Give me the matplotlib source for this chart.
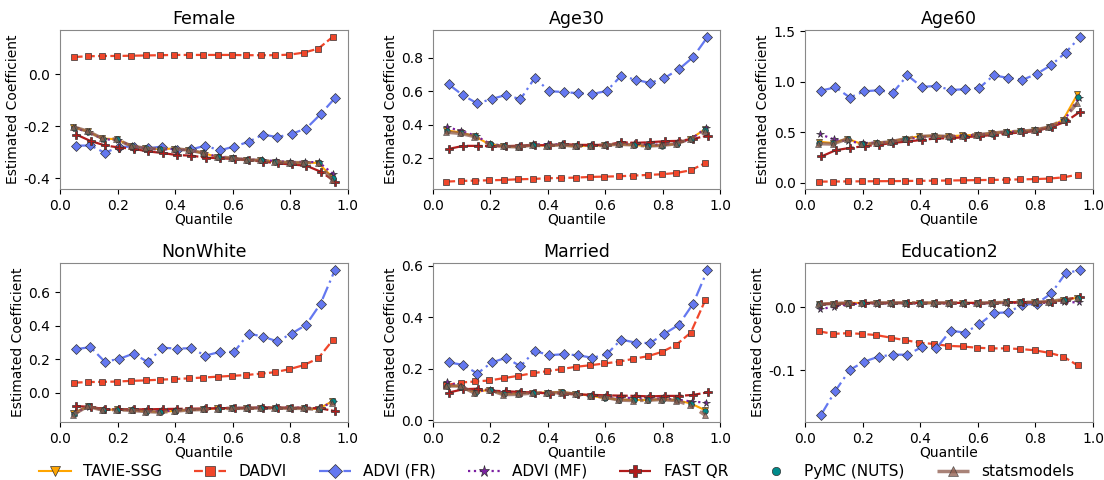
import numpy as np
import matplotlib
matplotlib.use('Agg')
import matplotlib.pyplot as plt

plt.rcParams['axes.unicode_minus'] = False

quantiles = np.round(np.arange(0.05, 0.96, 0.05), 2)

panels = ['Female', 'Age30', 'Age60', 'NonWhite', 'Married', 'Education2']

# --- TAVIE-SSG ---
tavie = {
    'Female': [-0.204, -0.220, -0.247, -0.250, -0.275, -0.285, -0.288, -0.286, -0.292, -0.303,
               -0.318, -0.323, -0.329, -0.331, -0.336, -0.340, -0.340, -0.341, -0.395],
    'Age30': [0.366, 0.354, 0.331, 0.283, 0.271, 0.267, 0.277, 0.275, 0.279, 0.271,
              0.273, 0.277, 0.283, 0.279, 0.272, 0.276, 0.285, 0.315, 0.372],
    'Age60': [0.408, 0.395, 0.438, 0.385, 0.395, 0.408, 0.438, 0.461, 0.467, 0.461,
              0.470, 0.477, 0.490, 0.507, 0.510, 0.523, 0.553, 0.622, 0.877],
    'NonWhite': [-0.124, -0.082, -0.103, -0.101, -0.105, -0.112, -0.115, -0.110, -0.103, -0.100,
                 -0.095, -0.093, -0.093, -0.091, -0.091, -0.093, -0.093, -0.099, -0.052],
    'Married': [0.135, 0.131, 0.108, 0.118, 0.101, 0.104, 0.107, 0.107, 0.109, 0.103,
                0.095, 0.086, 0.080, 0.078, 0.078, 0.081, 0.078, 0.065, 0.039],
    'Education2': [0.005, 0.006, 0.007, 0.007, 0.007, 0.007, 0.007, 0.007, 0.007, 0.007,
                   0.007, 0.007, 0.007, 0.008, 0.008, 0.008, 0.009, 0.012, 0.015],
}

# --- DADVI ---
dadvi = {
    'Female': [0.066, 0.069, 0.070, 0.070, 0.071, 0.072, 0.073, 0.074, 0.074, 0.074,
               0.074, 0.074, 0.073, 0.073, 0.073, 0.075, 0.083, 0.098, 0.143],
    'Age30': [0.059, 0.063, 0.065, 0.067, 0.069, 0.073, 0.075, 0.079, 0.081, 0.083,
              0.087, 0.089, 0.091, 0.095, 0.099, 0.103, 0.111, 0.127, 0.170],
    'Age60': [0.013, 0.014, 0.015, 0.016, 0.017, 0.018, 0.019, 0.021, 0.022, 0.024,
              0.026, 0.028, 0.030, 0.032, 0.035, 0.038, 0.043, 0.055, 0.082],
    'NonWhite': [0.059, 0.063, 0.064, 0.066, 0.070, 0.073, 0.077, 0.081, 0.085, 0.090,
                 0.095, 0.100, 0.105, 0.113, 0.122, 0.140, 0.164, 0.205, 0.312],
    'Married': [0.136, 0.146, 0.150, 0.154, 0.163, 0.172, 0.182, 0.190, 0.198, 0.207,
                0.213, 0.220, 0.227, 0.238, 0.248, 0.265, 0.293, 0.340, 0.465],
    'Education2': [-0.038, -0.042, -0.041, -0.042, -0.044, -0.048, -0.052, -0.056, -0.058, -0.061,
                   -0.062, -0.064, -0.065, -0.065, -0.066, -0.068, -0.072, -0.078, -0.092],
}

# --- ADVI (FR) ---
advi_fr = {
    'Female': [-0.275, -0.274, -0.302, -0.280, -0.278, -0.285, -0.278, -0.293, -0.289, -0.275,
               -0.293, -0.278, -0.260, -0.232, -0.242, -0.229, -0.209, -0.154, -0.092],
    'Age30': [0.642, 0.576, 0.527, 0.554, 0.578, 0.552, 0.681, 0.600, 0.596, 0.588,
              0.584, 0.602, 0.693, 0.669, 0.650, 0.679, 0.731, 0.804, 0.925],
    'Age60': [0.914, 0.946, 0.845, 0.907, 0.917, 0.894, 1.065, 0.950, 0.960, 0.920,
              0.927, 0.940, 1.065, 1.039, 1.020, 1.080, 1.166, 1.290, 1.444],
    'NonWhite': [0.259, 0.272, 0.185, 0.201, 0.233, 0.182, 0.268, 0.263, 0.265, 0.221,
                 0.243, 0.243, 0.353, 0.334, 0.306, 0.353, 0.405, 0.531, 0.732],
    'Married': [0.224, 0.215, 0.181, 0.224, 0.242, 0.209, 0.269, 0.252, 0.256, 0.252,
                0.242, 0.256, 0.313, 0.301, 0.299, 0.335, 0.370, 0.452, 0.583],
    'Education2': [-0.170, -0.132, -0.099, -0.086, -0.078, -0.075, -0.075, -0.063, -0.065, -0.037,
                   -0.040, -0.027, -0.009, -0.008, 0.004, 0.006, 0.022, 0.054, 0.059],
}

# --- ADVI (MF) ---
advi_mf = {
    'Female': [-0.206, -0.224, -0.250, -0.253, -0.277, -0.286, -0.290, -0.287, -0.293, -0.304,
               -0.318, -0.322, -0.328, -0.330, -0.334, -0.338, -0.337, -0.339, -0.385],
    'Age30': [0.385, 0.362, 0.333, 0.285, 0.272, 0.270, 0.282, 0.282, 0.283, 0.276,
              0.276, 0.279, 0.287, 0.284, 0.280, 0.281, 0.288, 0.316, 0.380],
    'Age60': [0.484, 0.430, 0.410, 0.395, 0.398, 0.410, 0.430, 0.455, 0.463, 0.458,
              0.468, 0.476, 0.492, 0.506, 0.511, 0.524, 0.552, 0.618, 0.840],
    'NonWhite': [-0.120, -0.085, -0.102, -0.100, -0.104, -0.110, -0.112, -0.108, -0.101, -0.098,
                 -0.094, -0.091, -0.091, -0.089, -0.089, -0.090, -0.090, -0.093, -0.055],
    'Married': [0.148, 0.130, 0.112, 0.117, 0.108, 0.106, 0.107, 0.106, 0.106, 0.101,
                0.094, 0.090, 0.088, 0.085, 0.084, 0.084, 0.080, 0.072, 0.068],
    'Education2': [-0.003, 0.001, 0.005, 0.006, 0.006, 0.006, 0.006, 0.006, 0.006, 0.006,
                   0.006, 0.006, 0.006, 0.007, 0.007, 0.007, 0.007, 0.008, 0.008],
}

# --- FAST QR ---
fast_qr = {
    'Female': [-0.232, -0.257, -0.274, -0.282, -0.287, -0.297, -0.303, -0.311, -0.313, -0.321,
               -0.323, -0.326, -0.331, -0.336, -0.343, -0.347, -0.352, -0.375, -0.413],
    'Age30': [0.255, 0.273, 0.273, 0.271, 0.271, 0.275, 0.277, 0.277, 0.283, 0.279,
              0.279, 0.279, 0.295, 0.291, 0.295, 0.301, 0.303, 0.315, 0.335],
    'Age60': [0.262, 0.324, 0.347, 0.364, 0.377, 0.397, 0.410, 0.426, 0.440, 0.443,
              0.453, 0.463, 0.476, 0.490, 0.500, 0.516, 0.553, 0.608, 0.706],
    'NonWhite': [-0.081, -0.085, -0.100, -0.099, -0.100, -0.100, -0.098, -0.097, -0.096, -0.095,
                 -0.093, -0.092, -0.091, -0.090, -0.090, -0.091, -0.091, -0.095, -0.111],
    'Married': [0.107, 0.120, 0.122, 0.114, 0.112, 0.109, 0.107, 0.103, 0.103, 0.100,
                0.098, 0.096, 0.095, 0.094, 0.092, 0.094, 0.094, 0.098, 0.108],
    'Education2': [0.005, 0.006, 0.006, 0.007, 0.007, 0.007, 0.007, 0.007, 0.007, 0.007,
                   0.007, 0.007, 0.007, 0.008, 0.008, 0.008, 0.009, 0.012, 0.017],
}

# --- PyMC (NUTS) ---
pymc = {
    'Female': [-0.205, -0.221, -0.248, -0.251, -0.276, -0.285, -0.289, -0.287, -0.292, -0.304,
               -0.319, -0.323, -0.329, -0.331, -0.337, -0.341, -0.341, -0.342, -0.400],
    'Age30': [0.362, 0.352, 0.330, 0.282, 0.270, 0.267, 0.276, 0.274, 0.278, 0.270,
              0.272, 0.276, 0.282, 0.279, 0.272, 0.275, 0.284, 0.314, 0.368],
    'Age60': [0.400, 0.392, 0.432, 0.384, 0.394, 0.406, 0.435, 0.459, 0.465, 0.459,
              0.468, 0.476, 0.489, 0.505, 0.509, 0.521, 0.551, 0.618, 0.850],
    'NonWhite': [-0.130, -0.083, -0.104, -0.102, -0.106, -0.113, -0.117, -0.112, -0.104, -0.101,
                 -0.096, -0.094, -0.094, -0.092, -0.092, -0.094, -0.094, -0.100, -0.050],
    'Married': [0.133, 0.128, 0.106, 0.116, 0.100, 0.103, 0.106, 0.106, 0.108, 0.101,
                0.094, 0.084, 0.079, 0.077, 0.077, 0.080, 0.077, 0.064, 0.037],
    'Education2': [0.005, 0.006, 0.007, 0.007, 0.007, 0.007, 0.007, 0.007, 0.007, 0.007,
                   0.007, 0.007, 0.007, 0.008, 0.008, 0.008, 0.009, 0.012, 0.015],
}

# --- statsmodels ---
statsm = {
    'Female': [-0.202, -0.219, -0.246, -0.250, -0.275, -0.285, -0.287, -0.286, -0.292, -0.302,
               -0.318, -0.322, -0.329, -0.331, -0.336, -0.340, -0.340, -0.341, -0.405],
    'Age30': [0.355, 0.348, 0.329, 0.283, 0.270, 0.267, 0.277, 0.274, 0.279, 0.271,
              0.273, 0.277, 0.283, 0.279, 0.272, 0.276, 0.285, 0.315, 0.360],
    'Age60': [0.388, 0.385, 0.435, 0.383, 0.393, 0.406, 0.436, 0.460, 0.466, 0.460,
              0.469, 0.477, 0.490, 0.506, 0.510, 0.522, 0.552, 0.620, 0.790],
    'NonWhite': [-0.132, -0.082, -0.104, -0.102, -0.106, -0.113, -0.117, -0.112, -0.104, -0.101,
                 -0.096, -0.094, -0.094, -0.092, -0.092, -0.094, -0.094, -0.101, -0.060],
    'Married': [0.132, 0.133, 0.105, 0.118, 0.099, 0.100, 0.105, 0.105, 0.107, 0.101,
                0.093, 0.090, 0.078, 0.076, 0.077, 0.080, 0.076, 0.058, 0.021],
    'Education2': [0.005, 0.006, 0.007, 0.007, 0.007, 0.007, 0.007, 0.007, 0.007, 0.007,
                   0.007, 0.007, 0.007, 0.008, 0.008, 0.008, 0.009, 0.012, 0.014],
}

# (label, data, colour, marker, linestyle, lw, alpha, x-jitter, markersize)
methods = [
    ('TAVIE-SSG', tavie, 'orange', 'v', '-', 1.5, 1.0, -0.004, 5),
    ('DADVI', dadvi, '#f0462a', 's', (0, (4, 1.5)), 1.6, 1.0, -0.003, 5),
    ('ADVI (FR)', advi_fr, '#6478f0', 'D', (0, (6, 2, 1, 2)), 1.6, 1.0, 0.005, 5),
    ('ADVI (MF)', advi_mf, '#7b1fa2', '*', ':', 1.6, 1.0, 0.0, 5.5),
    ('FAST QR', fast_qr, '#b01c1c', 'P', (0, (7, 1.2)), 1.6, 1.0, 0.006, 5.5),
    ('PyMC (NUTS)', pymc, '#008b8b', 'o', 'none', 1.5, 1.0, -0.002, 4),
    ('statsmodels', statsm, '#8c5a4b', '^', (0, (10, 2, 1, 2)), 2.5, 0.75, -0.005, 5),
]

fig, axes = plt.subplots(2, 3, figsize=(11.04, 4.8), dpi=100)
fig.subplots_adjust(left=0.0545, right=0.990, top=0.938, bottom=0.121,
                    wspace=0.295, hspace=0.465)

handles = []
for ax, name in zip(axes.flat, panels):
    for label, data, col, mk, ls, lw, al, dx, ms in methods:
        h, = ax.plot(quantiles + dx, data[name], color=col, marker=mk, linestyle=ls,
                     lw=lw, alpha=al, ms=ms,
                     markeredgecolor='#333333', markeredgewidth=0.5, label=label)
        if name == panels[0]:
            handles.append(h)
    ax.set_title(name, fontsize=12.5, pad=4)
    ax.set_xlabel('Quantile', fontsize=10, labelpad=0)
    ax.set_ylabel('Estimated Coefficient', fontsize=10, labelpad=2.5)
    ax.set_xlim(0, 1)
    ax.tick_params(labelsize=10)
    for sp in ax.spines.values():
        sp.set_color('#888888')

fig.legend(handles=handles, loc='center', ncol=7, frameon=False,
           fontsize=11, bbox_to_anchor=(0.504, 0.018), handlelength=2.1,
           columnspacing=2.1, handletextpad=0.8, markerscale=1.5)

plt.savefig('out.png', dpi=100)
